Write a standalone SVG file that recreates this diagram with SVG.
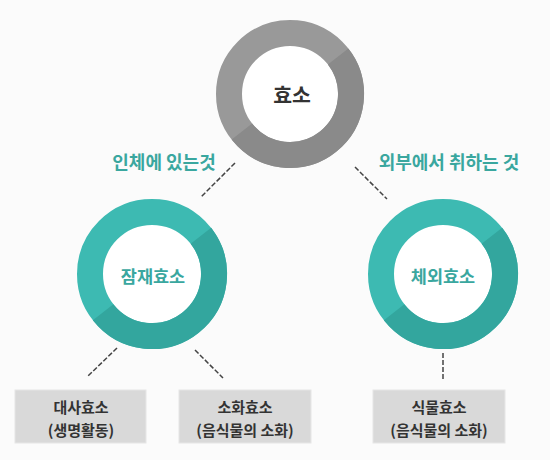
<svg xmlns="http://www.w3.org/2000/svg" width="550" height="460" viewBox="0 0 550 460">
<style>
.ko{font-family:"Noto Sans CJK KR","Noto Sans",sans-serif;font-weight:bold;text-anchor:middle}
.lbl{font-size:18px;fill:#3aa79f}
.ctext{font-size:17.5px;fill:#3aa79f}
.box{fill:#d9d9d9;stroke:#e6e6e6;stroke-width:1}
.btext{font-size:15px;fill:#333}
.conn{stroke:#444;stroke-width:1.5;stroke-dasharray:5 2;fill:none}
</style>
<rect width="550" height="460" fill="#fbfbfb"/>
<g id="connectors">
<line class="conn" x1="235" y1="163" x2="201" y2="197"/>
<line class="conn" x1="355" y1="167" x2="387" y2="199"/>
<line class="conn" x1="117" y1="348" x2="88" y2="376"/>
<line class="conn" x1="195" y1="350" x2="223" y2="378"/>
<line class="conn" x1="443" y1="353" x2="443" y2="379"/>
</g>
<g id="label-left"><text class="ko lbl" x="164" y="169">인체에 있는것</text></g>
<g id="label-right"><text class="ko lbl" x="449" y="169">외부에서 취하는 것</text></g>
<g id="node-hyoso">
<circle cx="290" cy="94" r="48" fill="#ffffff"/>
<circle cx="290" cy="94" r="61" fill="none" stroke="#999999" stroke-width="26"/>
<path d="M338.1,56.4 A61,61 0 0 1 241.9,131.6" fill="none" stroke="#8a8a8a" stroke-width="26"/>
<text class="ko" x="292" y="103" font-size="20.5" fill="#333">효소</text>
</g>
<g id="node-jamjae">
<circle cx="152" cy="274" r="49" fill="#ffffff"/>
<circle cx="152" cy="274" r="62" fill="none" stroke="#3dbab2" stroke-width="26"/>
<path d="M200.9,235.8 A62,62 0 0 1 103.1,312.2" fill="none" stroke="#33a69e" stroke-width="26"/>
<text class="ko ctext" x="153" y="283">잠재효소</text>
</g>
<g id="node-cheoe">
<circle cx="443" cy="274" r="49" fill="#ffffff"/>
<circle cx="443" cy="274" r="62" fill="none" stroke="#3dbab2" stroke-width="26"/>
<path d="M491.9,235.8 A62,62 0 0 1 394.1,312.2" fill="none" stroke="#33a69e" stroke-width="26"/>
<text class="ko ctext" x="443" y="283">체외효소</text>
</g>
<g id="node-daesa">
<rect class="box" x="15" y="390" width="131" height="53"/>
<text class="ko btext" x="81" y="413">대사효소</text>
<text class="ko btext" x="81" y="436">(생명활동)</text>
</g>
<g id="node-sohwa">
<rect class="box" x="179" y="390" width="132" height="53"/>
<text class="ko btext" x="245" y="413">소화효소</text>
<text class="ko btext" x="245" y="436">(음식물의 소화)</text>
</g>
<g id="node-sikmul">
<rect class="box" x="373" y="390" width="132" height="53"/>
<text class="ko btext" x="439" y="413">식물효소</text>
<text class="ko btext" x="439" y="436">(음식물의 소화)</text>
</g>
</svg>
